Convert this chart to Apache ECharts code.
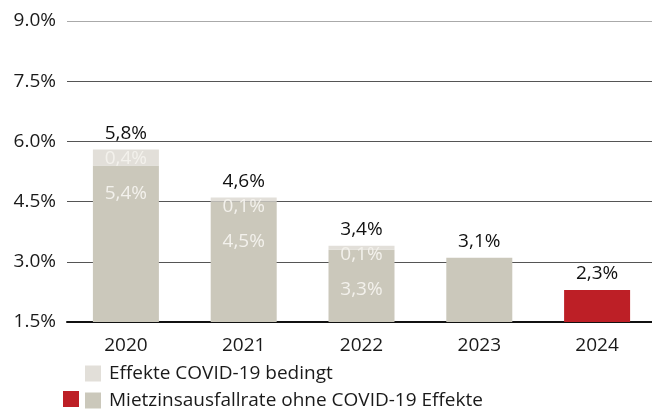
<!DOCTYPE html>
<html>
<head>
<meta charset="utf-8">
<script src="https://cdn.jsdelivr.net/npm/echarts@6/dist/echarts.min.js"></script>
<style>
  html, body { margin: 0; padding: 0; background: #fff; }
  #chart { width: 652px; height: 410px; }
</style>
</head>
<body>
<div id="chart"></div>
<script>
const years = ['2020', '2021', '2022', '2023', '2024'];
const baseRate = [5.4, 4.5, 3.3, 3.1, null];
const rate2024 = [null, null, null, null, 2.3];
const covidEffect = [0.4, 0.1, 0.1, null, null];
const totals = [5.8, 4.6, 3.4, 3.1, 2.3];

const FONT = '"Open Sans", "Noto Sans", sans-serif';
const FS = 19;
const fmt = v => v.toFixed(1).replace('.', ',') + '%';

const chart = echarts.init(document.getElementById('chart'));

chart.setOption({
  animation: false,
  textStyle: { fontFamily: FONT },
  grid: { left: 67, width: 589, top: 21, height: 301, outerBoundsMode: 'none' },
  legend: [
    {
      left: 80, top: 359, itemWidth: 16, itemHeight: 16, icon: 'rect', itemGap: 0,
      data: ['Effekte COVID-19 bedingt'],
      textStyle: { fontSize: FS, color: '#1a1a1a', fontFamily: FONT, padding: [0, 0, 0, 3] }
    },
    {
      left: 80, top: 386, itemWidth: 16, itemHeight: 16, icon: 'rect', itemGap: 0,
      data: ['Mietzinsausfallrate ohne COVID-19 Effekte'],
      textStyle: { fontSize: FS, color: '#1a1a1a', fontFamily: FONT, padding: [0, 0, 0, 3] }
    },
    {
      left: 58, top: 386, itemWidth: 16, itemHeight: 16, icon: 'rect',
      data: ['2024'],
      formatter: () => '',
      textStyle: { fontSize: 1 }
    }
  ],
  xAxis: {
    type: 'category',
    data: years,
    axisTick: { show: false },
    axisLine: { lineStyle: { color: '#111', width: 2 } },
    axisLabel: { fontSize: FS, color: '#1a1a1a', margin: 14, fontFamily: FONT }
  },
  yAxis: {
    type: 'value',
    min: 1.5,
    max: 9,
    interval: 1.5,
    axisLabel: {
      fontSize: FS, color: '#1a1a1a', margin: 11, fontFamily: FONT,
      formatter: v => v.toFixed(1) + '%'
    },
    splitLine: {
      lineStyle: { color: ['#555', '#555', '#555', '#555', '#555', '#aaa'], width: 1 }
    }
  },
  series: [
    {
      name: 'Mietzinsausfallrate ohne COVID-19 Effekte',
      type: 'bar',
      stack: 'rate',
      barWidth: 66,
      itemStyle: { color: '#cbc8bb' },
      data: baseRate
    },
    {
      name: '2024',
      type: 'bar',
      stack: 'rate',
      barWidth: 66,
      itemStyle: { color: '#bd1f26' },
      data: rate2024
    },
    {
      name: 'Effekte COVID-19 bedingt',
      type: 'bar',
      stack: 'rate',
      barWidth: 66,
      itemStyle: { color: '#e2dfd9' },
      data: covidEffect,
      label: {
        show: true,
        position: 'insideTop',
        distance: 0,
        formatter: p => '{t|' + fmt(covidEffect[p.dataIndex]) + '}\n{b|' + fmt(baseRate[p.dataIndex]) + '}',
        rich: {
          t: { fontSize: FS, color: '#f3f1ec', lineHeight: 18, fontFamily: FONT },
          b: { fontSize: FS, color: '#f3f1ec', lineHeight: 52, fontFamily: FONT }
        }
      }
    },
    {
      name: 'total',
      type: 'scatter',
      symbolSize: 1,
      itemStyle: { color: 'transparent', opacity: 1 },
      z: 5,
      data: totals,
      label: {
        show: true,
        position: 'top',
        distance: 6,
        fontSize: FS,
        color: '#111',
        fontFamily: FONT,
        formatter: p => fmt(p.value)
      }
    }
  ]
});
</script>
</body>
</html>
